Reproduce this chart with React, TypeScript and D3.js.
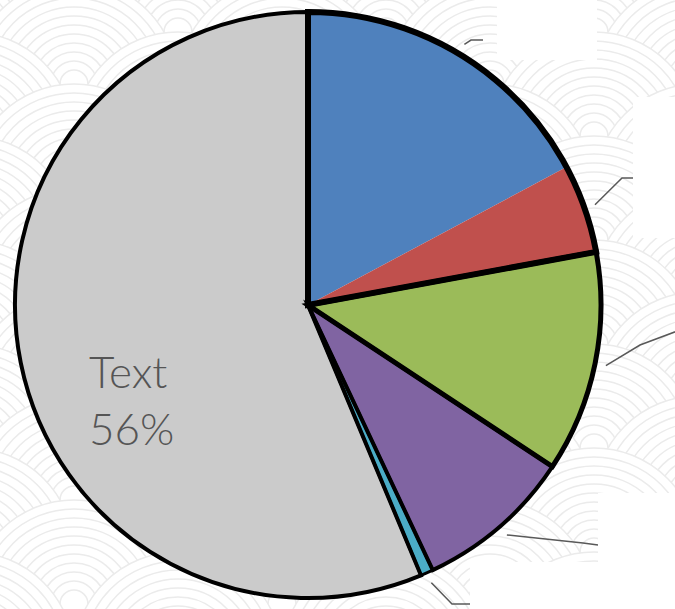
import React from "react";
import * as d3 from "d3";

const categories = ["Cat 1", "Cat 2", "Cat 3", "Cat 4", "Cat 5", "Text"];
const values = [17.2, 4.9, 12.2, 8.7, 0.7, 56.3];
const colors = ["#4f81bd", "#c0504d", "#9bbb59", "#8064a2", "#4bacc6", "#cbcbcb"];

const W = 675;
const H = 609;
const CX = 308;
const CY = 305;
const R = 293;

// leader-line layout: elbow and end points of each external label
const leaderElbow: [number, number][] = [[471, 40], [622, 178], [640, 345], [583, 543], [452, 604]];
const leaderEnd: [number, number][] = [[483, 40], [634, 178], [680, 330], [598, 545], [470, 604]];
// white boxes hiding the external labels
const labelBoxes: [number, number, number, number][] = [
  [497, 0, 100, 60],
  [633, 97, 42, 141],
  [598, 493, 77, 116],
  [470, 562, 128, 47],
];

function Background() {
  const Rs = 104;
  const rings = 11;
  const step = 9;
  const circles: { x: number; y: number }[] = [];
  for (let row = 0; row * (Rs / 2) < H + Rs; row++) {
    const y = row * (Rs / 2) - 20;
    const off = row % 2 ? Rs : 0;
    for (let x = -Rs + off - 30; x < W + 2 * Rs; x += 2 * Rs) circles.push({ x, y });
  }
  return (
    <g>
      <rect width={W} height={H} fill="#fff" />
      {circles.map((c, i) => (
        <g key={i}>
          <circle cx={c.x} cy={c.y} r={Rs} fill="#fff" stroke="#ebebeb" strokeWidth={1.5} />
          {d3.range(1, rings).map((k) => (
            <circle key={k} cx={c.x} cy={c.y} r={Rs - k * step} fill="none" stroke="#ebebeb" strokeWidth={1.5} />
          ))}
        </g>
      ))}
    </g>
  );
}

export default function App() {
  const pie = d3.pie<number>().sort(null).value((d) => d);
  const arcs = pie(values);
  const arc = d3.arc<any>().innerRadius(0).outerRadius(R);

  // outline groups: [first slice, last slice, stroke width]
  const outlineGroups: [number, number, number][] = [
    [5, 5, 4],
    [4, 4, 3],
    [3, 3, 4],
    [2, 2, 5],
    [0, 1, 6],
  ];

  const total = d3.sum(values);
  const pct = Math.round((values[5] / total) * 100);

  return (
    <svg width={W} height={H} style={{ position: "absolute", left: 0, top: 0 }}>
      <Background />
      <g transform={`translate(${CX},${CY})`}>
        {arcs.map((a, i) => (
          <path key={i} d={arc(a) as string} fill={colors[i]} />
        ))}
        {outlineGroups.map(([s, e, w], i) => (
          <path
            key={"o" + i}
            d={arc({ startAngle: arcs[s].startAngle, endAngle: arcs[e].endAngle }) as string}
            fill="none"
            stroke="#000"
            strokeWidth={w}
            strokeLinejoin="miter"
          />
        ))}
        <text
          fill="#555"
          fontFamily="Lato, 'Open Sans', sans-serif"
          fontWeight={300}
          fontSize={44}
        >
          <tspan x={-219} y={83}>{categories[5]}</tspan>
          <tspan x={-219} dy={57}>{pct}%</tspan>
        </text>
      </g>
      {arcs.slice(0, 5).map((a, i) => {
        const m = (a.startAngle + a.endAngle) / 2;
        const r0 = R + 11;
        const x0 = CX + Math.sin(m) * r0;
        const y0 = CY - Math.cos(m) * r0;
        const pts = [[x0, y0], leaderElbow[i], leaderEnd[i]];
        return (
          <path
            key={"l" + i}
            d={d3.line()(pts as [number, number][]) as string}
            fill="none"
            stroke="#595959"
            strokeWidth={1.5}
          />
        );
      })}
      {labelBoxes.map(([x, y, w, h], i) => (
        <rect key={"b" + i} x={x} y={y} width={w} height={h} fill="#fff" />
      ))}
    </svg>
  );
}
